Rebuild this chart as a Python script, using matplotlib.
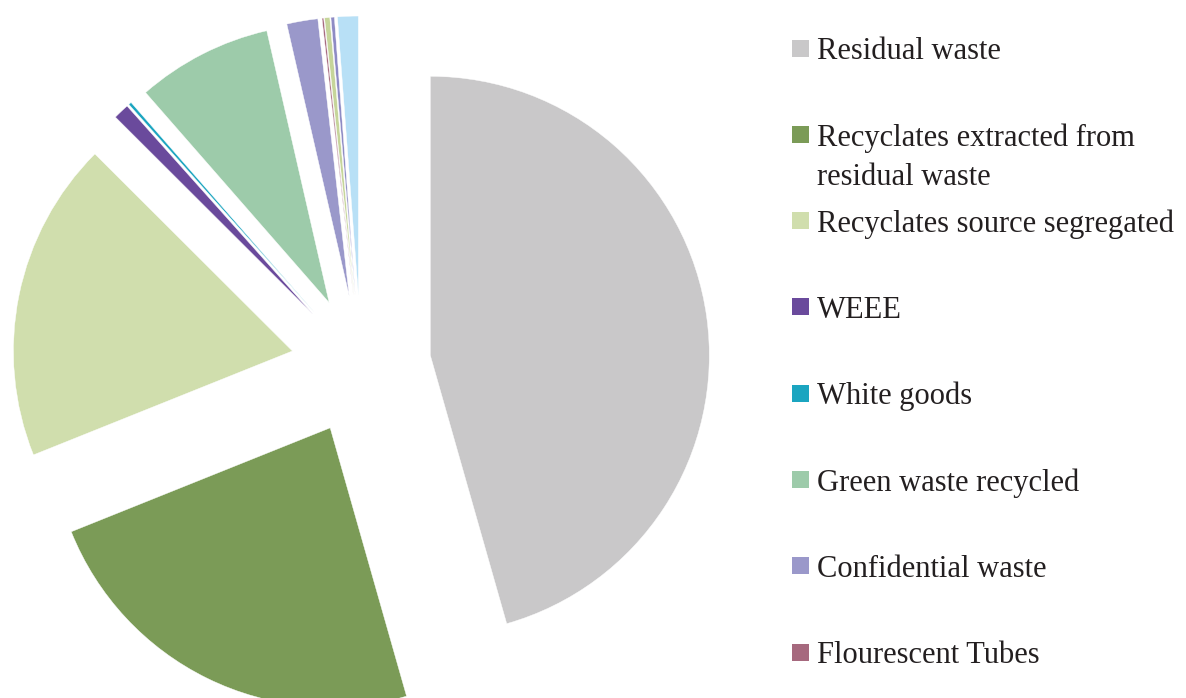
import matplotlib.pyplot as plt
from matplotlib.patches import Rectangle

# categories (legend only shows the first eight)
labels = ['Residual waste', 'Recyclates extracted from\nresidual waste',
          'Recyclates source segregated', 'WEEE', 'White goods',
          'Green waste recycled', 'Confidential waste', 'Flourescent Tubes',
          'Other 1', 'Other 2', 'Other 3']
shares = [45.7, 23.4, 18.6, 0.92, 0.17, 7.86, 1.8, 0.1, 0.3, 0.2, 1.2]
colors = ['#c9c8c9', '#7b9b57', '#d0dead', '#6a4a9c', '#1ba5c0',
          '#9dcbaa', '#9a98ca', '#a6697e', '#c6d59a', '#8e8bc4', '#b8e0f6']
n_legend = 8

W, H = 1186, 698
fig = plt.figure(figsize=(W / 100, H / 100), dpi=100)
ax = fig.add_axes([0, 0, 1, 1])

# pie in pixel units
cx, cy, r, gap = 361, H - 365, 279, 70
ax.pie(shares, colors=colors, startangle=90, counterclock=False,
       center=(cx, cy), radius=r, explode=[gap] * len(shares),
       wedgeprops=dict(linewidth=0.3, edgecolor='white'))

ax.set_xlim(0, W)
ax.set_ylim(0, H)
ax.set_aspect('equal')
ax.axis('off')

# legend drawn by hand: evenly spaced rows, long label wraps downwards
row_top = 48
row_step = 86.3
line_step = 40
for i in range(n_legend):
    yc = H - (row_top + i * row_step)
    ax.add_patch(Rectangle((792, yc - 8.5), 17, 17, color=colors[i], lw=0))
    for j, line in enumerate(labels[i].split('\n')):
        ax.text(817, yc - j * line_step, line, fontsize=22,
                family='Liberation Serif', color='#231f20',
                va='center_baseline', ha='left')

fig.savefig('out.png', dpi=100)
